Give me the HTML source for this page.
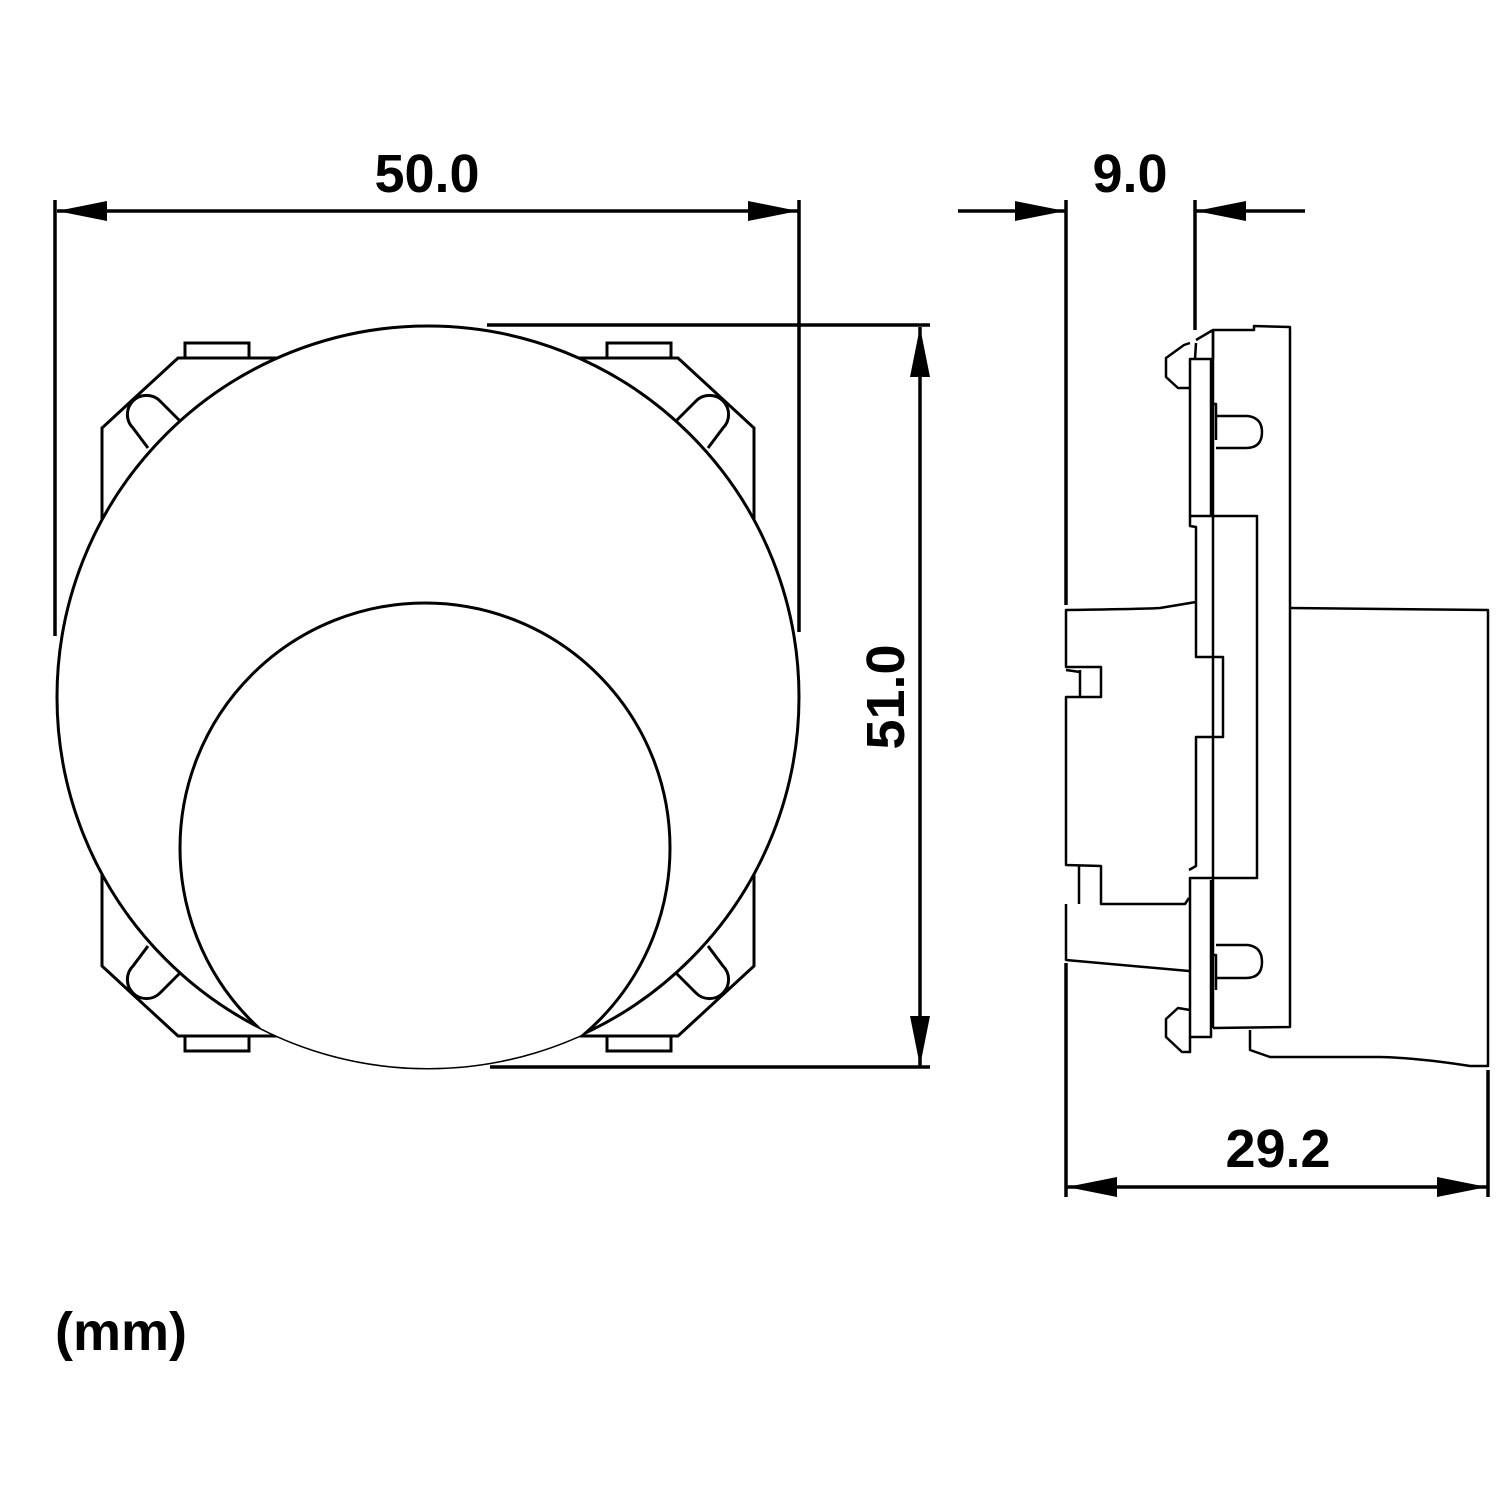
<!DOCTYPE html>
<html><head><meta charset="utf-8"><style>
html,body{margin:0;padding:0;background:#fff}
svg{display:block}
text{font-family:"Liberation Sans",Arial,sans-serif;font-weight:bold;fill:#000}
</style></head><body>
<svg width="1500" height="1500" viewBox="0 0 1500 1500" xmlns="http://www.w3.org/2000/svg">
<defs>
<marker id="a" viewBox="0 0 50 20" refX="50" refY="10" markerWidth="50" markerHeight="20" markerUnits="userSpaceOnUse" orient="auto"><path d="M0,0 L50,10 L0,20 Z" fill="#000"/></marker>
<clipPath id="bc"><circle cx="428" cy="697" r="371"/></clipPath>
<g id="q" fill="none" stroke="#000" stroke-width="3">
<path d="M102,560 L102,428 L178,358 L300,358"/>
<rect x="185" y="343" width="64" height="15"/>
<path d="M148,448 L133,428 A18,18 0 0 1 160,401 L180,421"/>
</g>
</defs>
<use href="#q"/>
<use href="#q" transform="translate(856,0) scale(-1,1)"/>
<use href="#q" transform="translate(0,1394) scale(1,-1)"/>
<use href="#q" transform="translate(856,1394) scale(-1,-1)"/>
<circle cx="428" cy="697" r="371" fill="#fff" stroke="#000" stroke-width="3"/>
<circle cx="425" cy="848" r="245" fill="#fff" stroke="#000" stroke-width="3" clip-path="url(#bc)"/>
<g stroke="#000" stroke-width="3.5" fill="none">
<line x1="55" y1="200" x2="55" y2="636"/>
<line x1="799" y1="200" x2="799" y2="632"/>
<line x1="428" y1="211" x2="57" y2="211" marker-end="url(#a)"/>
<line x1="428" y1="211" x2="798" y2="211" marker-end="url(#a)"/>
<line x1="487" y1="325" x2="930" y2="325"/>
<line x1="490" y1="1067" x2="930" y2="1067"/>
<line x1="920" y1="697" x2="920" y2="327" marker-end="url(#a)"/>
<line x1="920" y1="697" x2="920" y2="1066" marker-end="url(#a)"/>
<line x1="1066" y1="200" x2="1066" y2="605"/>
<line x1="1195" y1="200" x2="1195" y2="330"/>
<line x1="958" y1="211" x2="1065" y2="211" marker-end="url(#a)"/>
<line x1="1305" y1="211" x2="1196" y2="211" marker-end="url(#a)"/>
<line x1="1066" y1="963" x2="1066" y2="1197"/>
<line x1="1488" y1="1070" x2="1488" y2="1197"/>
<line x1="1277" y1="1187" x2="1067" y2="1187" marker-end="url(#a)"/>
<line x1="1277" y1="1187" x2="1487" y2="1187" marker-end="url(#a)"/>
</g>
<g stroke="#000" stroke-width="2.5" fill="none" stroke-linejoin="round">
<path d="M1213,330 L1254,330 L1254,326 L1290,327 L1290,1027 L1213,1028"/>
<line x1="1213" y1="330" x2="1213" y2="1028"/>
<path d="M1196,340 L1213,330 L1213,359 L1190,359 L1190,516 L1257,516 L1257,878 L1190,878 L1190,1037 L1211,1037 L1211,880"/>
<line x1="1211" y1="359" x2="1211" y2="515"/>
<path d="M1195,359 L1196,343 M1190,343 L1184,345 L1166,358 L1166,377 L1178,388 L1190,388"/>
<path d="M1190,1010 L1178,1008 L1166,1019 L1166,1037 L1182,1052 L1190,1052 L1190,1037"/>
<path d="M1216,416 L1248,416 Q1262,418 1262,432 Q1262,448 1246,448 L1216,448 M1212,404 L1216,404 L1216,440"/>
<path d="M1216,945 L1248,945 Q1262,947 1262,962 Q1262,978 1246,978 L1216,978 M1212,955 L1216,955 L1216,990"/>
<path d="M1190,516 L1190,526 L1196,527 L1196,657 L1223,657 L1223,737 L1196,737 L1196,866 L1189,870"/>
<path d="M1196,602 L1160,608 Q1145,609 1066,610 L1066,667 L1101,667 L1101,697 L1066,697 L1066,865 L1101,866 L1101,904 L1185,904 L1189,898"/>
<line x1="1066" y1="670" x2="1080" y2="672"/><line x1="1080" y1="670" x2="1080" y2="697"/>
<line x1="1079" y1="866" x2="1079" y2="904"/>
<path d="M1066,904 L1066,960 L1189,971"/>
<path d="M1290,608 L1488,610 L1488,1066 L1470,1066 Q1420,1058 1380,1057 L1270,1057 L1250,1050 L1250,1030"/>
</g>
<text x="427" y="192" font-size="54" text-anchor="middle">50.0</text>
<text x="1130" y="192" font-size="54" text-anchor="middle">9.0</text>
<text x="1278" y="1167" font-size="54" text-anchor="middle">29.2</text>
<text transform="translate(904,697) rotate(-90)" font-size="54" text-anchor="middle">51.0</text>
<text x="55" y="1350" font-size="54">(mm)</text>
</svg>
</body></html>
